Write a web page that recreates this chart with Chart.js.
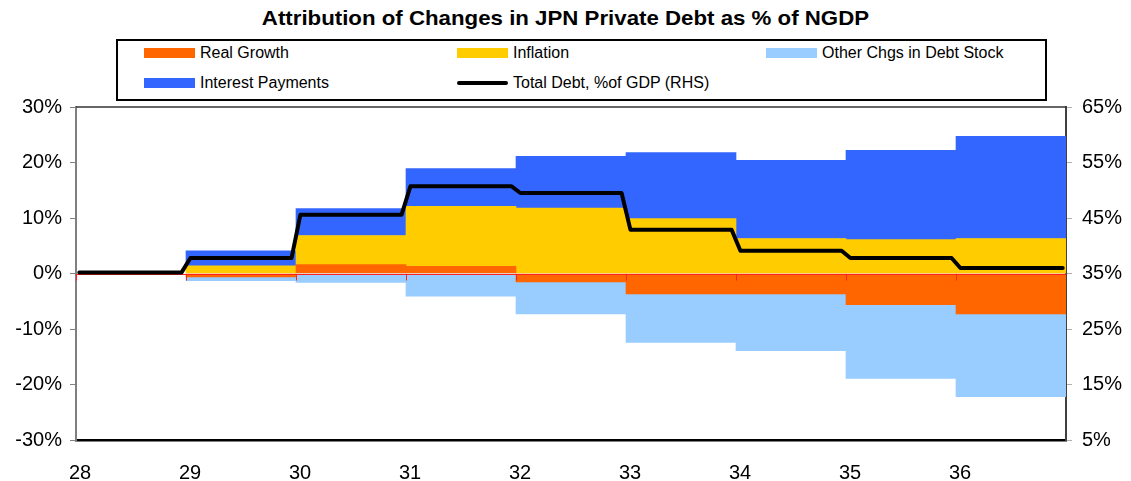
<!DOCTYPE html>
<html>
<head>
<meta charset="utf-8">
<title>JPN Private Debt Attribution</title>
<script src="https://cdn.jsdelivr.net/npm/chart.js@4.4.1/dist/chart.umd.min.js"></script>
<style>
  html, body { margin: 0; padding: 0; background: #fff; }
  body { width: 1131px; height: 481px; position: relative; overflow: hidden; font-family: "Liberation Sans", Arial, sans-serif; }
  #chart { position: absolute; left: 0; top: 0; }
  #title { position: absolute; left: 0; top: 6px; width: 1131px; text-align: center; font-weight: bold; font-size: 21px; color: #000; transform: scaleX(1.06); transform-origin: 566px 0; }
  #legend { position: absolute; left: 116px; top: 39px; width: 927px; height: 58px; border: 2px solid #000; }
  .item { position: absolute; height: 16px; display: flex; align-items: center; font-size: 16px; color: #000; white-space: nowrap; }
  .swatch { width: 51px; height: 10px; margin-right: 5px; }
  .swatch.line { height: 4px; border-radius: 2px; }
</style>
</head>
<body>
<div id="title">Attribution of Changes in JPN Private Debt as % of NGDP</div>
<div id="legend"></div>
<canvas id="chart" width="1131" height="481"></canvas>
<script>
// start year of each segment (segment runs to year + 1)
const years = [29, 30, 31, 32, 33, 34, 35, 36];
const realGrowth = [-0.6, 1.6, 1.3, -1.5, -3.7, -3.7, -5.6, -7.3];
const inflation = [1.4, 5.25, 10.8, 11.8, 9.9, 6.3, 6.1, 6.3];
const otherChgs = [-0.7, -1.6, -4.1, -5.8, -8.7, -10.2, -13.3, -14.9];
const interestPayments = [2.7, 4.85, 6.8, 9.3, 11.9, 14.1, 16.1, 18.4];

// total debt level (RHS) per year, 28..36
const debtYears = [28, 29, 30, 31, 32, 33, 34, 35, 36];
const totalDebt = [35.2, 37.8, 45.6, 50.7, 49.5, 42.9, 39.1, 37.8, 36.0];

const leftTicks = [-30, -20, -10, 0, 10, 20, 30];
const rightTicks = [5, 15, 25, 35, 45, 55, 65];

Chart.defaults.font.family = '"Liberation Sans", Arial, sans-serif';
Chart.defaults.font.size = 20;
Chart.defaults.color = '#000';

// each segment is a full-width block centred between two year ticks
const blocks = vals => years.map((yr, i) => ({ x: yr + 0.5, y: vals[i] }));

// step line with a short ramp at each year boundary
const ramp = 0.04;
const debtPoints = [{ x: debtYears[0] + 0.03, y: totalDebt[0] }];
for (let i = 1; i < debtYears.length; i++) {
  debtPoints.push({ x: debtYears[i] - ramp, y: totalDebt[i - 1] });
  debtPoints.push({ x: debtYears[i] + ramp, y: totalDebt[i] });
}
debtPoints.push({ x: debtYears[debtYears.length - 1] + 0.97, y: totalDebt[totalDebt.length - 1] });

const barStyle = { borderWidth: 0, barPercentage: 1, categoryPercentage: 1, order: 1, stack: 'chg' };

const datasets = [
  { label: 'Real Growth', data: blocks(realGrowth), backgroundColor: '#ff6600', ...barStyle },
  { label: 'Inflation', data: blocks(inflation), backgroundColor: '#ffcc00', ...barStyle },
  { label: 'Other Chgs in Debt Stock', data: blocks(otherChgs), backgroundColor: '#99ccff', ...barStyle },
  { label: 'Interest Payments', data: blocks(interestPayments), backgroundColor: '#3366ff', ...barStyle },
  {
    type: 'line', label: 'Total Debt, %of GDP (RHS)', data: debtPoints, yAxisID: 'y1',
    borderColor: '#000', borderWidth: 4, pointRadius: 0, tension: 0, fill: false,
    borderJoinStyle: 'round', borderCapStyle: 'round', order: 0
  }
];

// red zero axis with ticks, drawn over the blocks but under the debt line
const zeroAxis = {
  id: 'zeroAxis',
  beforeDatasetDraw(chart, args) {
    if (args.meta.type !== 'line') return;
    const { ctx, chartArea: a, scales: { x, y } } = chart;
    const y0 = Math.round(y.getPixelForValue(0)) + 0.5;
    ctx.save();
    ctx.strokeStyle = '#ff2020';
    ctx.lineWidth = 1;
    ctx.beginPath();
    ctx.moveTo(a.left, y0);
    ctx.lineTo(a.right, y0);
    for (let v = x.min; v < x.max; v++) {
      const px = Math.round(x.getPixelForValue(v)) + 0.5;
      ctx.moveTo(px, y0);
      ctx.lineTo(px, y0 + 6);
    }
    ctx.stroke();
    ctx.restore();
  },
  afterDraw(chart) {
    const { ctx, chartArea: a } = chart;
    ctx.save();
    ctx.strokeStyle = '#333';
    ctx.lineWidth = 1.5;
    ctx.beginPath();
    ctx.moveTo(a.left, a.top);
    ctx.lineTo(a.right, a.top);
    ctx.stroke();
    ctx.restore();
  }
};

new Chart(document.getElementById('chart'), {
  type: 'bar',
  data: { datasets },
  plugins: [zeroAxis],
  options: {
    responsive: false,
    animation: false,
    layout: { padding: { top: 107, left: 0, right: 0, bottom: 0 } },
    plugins: { legend: { display: false }, tooltip: { enabled: false } },
    scales: {
      x: {
        type: 'linear', min: 28, max: 37, stacked: true, offset: false,
        grid: { drawOnChartArea: false, drawTicks: false, offset: false },
        border: { color: '#000', width: 2.5 },
        ticks: { stepSize: 1, padding: 21, labelOffset: 4, maxRotation: 0, callback: v => (v < 37 ? v : '') },
        afterFit: s => { s.height = 41; }
      },
      y: {
        position: 'left', min: -30, max: 30, stacked: true,
        grid: { drawOnChartArea: false, tickLength: 6, color: '#808080' },
        border: { color: '#808080', width: 2 },
        afterBuildTicks: s => { s.ticks = leftTicks.map(v => ({ value: v })); },
        ticks: { padding: 8, callback: v => v + '%' },
        afterFit: s => { s.width = 76; }
      },
      y1: {
        position: 'right', min: 5, max: 65,
        grid: { drawOnChartArea: false, tickLength: 6, color: '#b0b0b0' },
        border: { color: '#404040', width: 2 },
        afterBuildTicks: s => { s.ticks = rightTicks.map(v => ({ value: v })); },
        ticks: { padding: 10, callback: v => v + '%' },
        afterFit: s => { s.width = 65; }
      }
    }
  }
});

// boxed legend: three columns, two rows
const legendCols = [26, 339, 648];
const legendRows = [4, 34];
const legend = document.getElementById('legend');
datasets.forEach((ds, i) => {
  const item = document.createElement('div');
  item.className = 'item';
  item.style.left = legendCols[i % 3] + 'px';
  item.style.top = legendRows[Math.floor(i / 3)] + 'px';
  const sw = document.createElement('span');
  sw.className = ds.type === 'line' ? 'swatch line' : 'swatch';
  sw.style.background = ds.type === 'line' ? ds.borderColor : ds.backgroundColor;
  const txt = document.createElement('span');
  txt.textContent = ds.label;
  item.append(sw, txt);
  legend.appendChild(item);
});
</script>
</body>
</html>
